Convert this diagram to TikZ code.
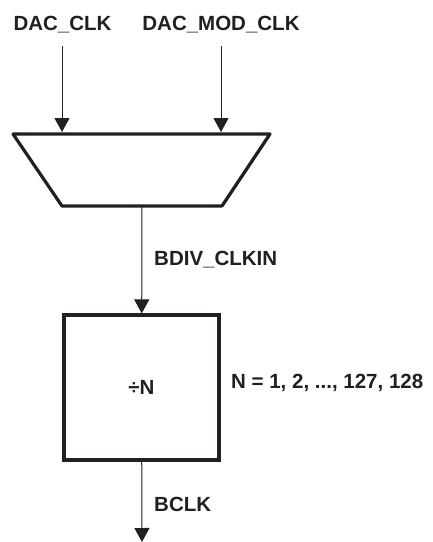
\documentclass[tikz,border=0pt]{standalone}
\usepackage{fontspec}
\setmainfont{Liberation Sans}
\usetikzlibrary{arrows.meta}
\usetikzlibrary{positioning}
\definecolor{inkgray}{RGB}{35,31,32}

\begin{document}
\begin{tikzpicture}[x=1pt,y=-1pt]
	\useasboundingbox (0,0) rectangle (432,542);
	\begin{scope}[every node/.style={text=inkgray, inner sep=0pt,
	              font=\fontsize{20.5}{24}\selectfont\bfseries}]
		\node (dacclk) at (62.5,25) {DAC\_CLK};
		\node (dacmod) at (221,25) {DAC\_MOD\_CLK};
		\node[anchor=west] (bdivlbl) at (154,260) {BDIV\_CLKIN};
		\node[anchor=west] (nlbl) at (231,383) {N = 1, 2, ..., 127, 128};
		\node[anchor=west] (bclklbl) at (154,504) {BCLK};
		\node[draw=inkgray, line width=3.2pt, minimum width=155pt,
		      minimum height=145pt] (div) at (141.5,387.5) {÷N};
	\end{scope}

	% mux
	\draw[inkgray, line width=3.2pt, line join=round]
		(13,134) -- (270,134) -- (222,206) -- (62,206) -- cycle;
	\coordinate (inA) at (62,132);
	\coordinate (inB) at (221,132);
	\coordinate (muxout) at (142,206);
	\coordinate (srcA) at (62,46);
	\coordinate (srcB) at (221,46);
	\coordinate (bclkend) at (142,542);

	\begin{scope}[>={Triangle[length=14pt,width=15pt]},
	              every edge/.style={draw=inkgray, line width=1pt}]
		\path (srcA) edge[->] (inA);
		\path (srcB) edge[->] (inB);
		\path (muxout) edge[->] (div);
		\path (div) edge[->] (bclkend);
	\end{scope}
\end{tikzpicture}
\end{document}
